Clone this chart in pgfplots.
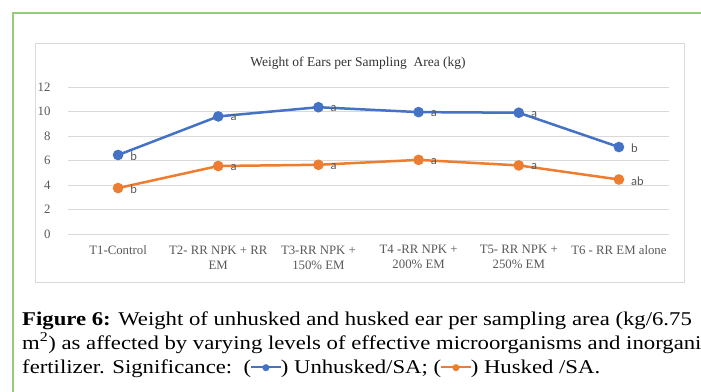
\documentclass[border=0pt]{standalone}
\usepackage{fontspec}
\setmainfont{Liberation Serif}
\newfontfamily\capfont[FakeStretch=1.165]{Liberation Serif}
\newfontfamily\lblfont{Carlito}
\newfontfamily\dejavu{DejaVu Sans}
\usepackage{pgfplots}
\pgfplotsset{compat=1.18}
\definecolor{ublue}{RGB}{68,114,196}
\definecolor{uorange}{RGB}{237,125,49}
\definecolor{txtgray}{RGB}{89,89,89}
\definecolor{gridgray}{RGB}{217,217,217}
\definecolor{bordergreen}{RGB}{150,205,120}
\newcommand{\legsym}[1]{{\color{#1}\rule[0.27em]{0.68em}{1.8pt}\kern-0.12em\raisebox{0.12em}{\dejavu\fontsize{9}{9}\selectfont ●}\kern-0.12em\rule[0.27em]{0.68em}{1.8pt}}}
\begin{document}
\begin{tikzpicture}[x=1pt,y=1pt]
\useasboundingbox (0,0) rectangle (701,391);
\fill[white] (0,0) rectangle (701,391);
\clip (0,0) rectangle (701,391);
\draw[bordergreen, line width=1.5pt] (13,-5) -- (13,378) -- (710,378);
\draw[gridgray, line width=0.75pt] (35,109) rectangle (684,348);
\node[font=\fontsize{13.5}{15}\selectfont, text=black!80] at (358,327.5) {Weight of Ears per Sampling\ \ Area (kg)};
\begin{axis}[
  at={(68pt,157pt)}, anchor=south west,
  scale only axis, width=601pt, height=147pt,
  xmin=-0.5, xmax=5.5, ymin=0, ymax=12,
  axis line style={draw=none},
  ymajorgrids, grid style={gridgray, line width=0.75pt},
  major tick length=0pt, tick style={draw=none},
  ytick={0,2,...,12},
  xtick={0,...,5},
  xticklabels={T1-Control, {T2- RR NPK + RR\\EM}, {T3-RR NPK +\\150\% EM}, {T4 -RR NPK +\\200\% EM}, {T5- RR NPK +\\250\% EM}, T6 - RR EM alone},
  /pgf/number format/assume math mode=true,
  ticklabel style={font=\fontsize{12.8}{15}\selectfont, text=txtgray},
  xticklabel style={align=center, yshift=-8pt},
  yticklabel style={xshift=-14pt},
  clip=false,
  nodes near coords={\pgfplotspointmeta},
  point meta=explicit symbolic,
  nodes near coords style={anchor=west, xshift=10pt, yshift=-1.5pt, inner sep=1pt, font=\lblfont\fontsize{12.5}{12.5}\selectfont, text=txtgray},
]
\addplot[ublue, line width=2.5pt, mark=*, mark size=4pt, mark options={solid}] coordinates {
 (0,6.45) [b] (1,9.6) [a] (2,10.35) [a] (3,9.95) [a] (4,9.9) [a] (5,7.1) [b]
};
\addplot[uorange, line width=2.5pt, mark=*, mark size=4pt, mark options={solid}] coordinates {
 (0,3.75) [b] (1,5.55) [a] (2,5.65) [a] (3,6.05) [a] (4,5.6) [a] (5,4.45) [ab]
};
\end{axis}
\node[anchor=base west, inner sep=0pt, font=\capfont\fontsize{19.5}{24}\selectfont] at (22,66) {\textbf{Figure 6:} Weight of unhusked and husked ear per sampling area (kg/6.75};
\node[anchor=base west, inner sep=0pt, font=\capfont\fontsize{19.5}{24}\selectfont] at (22,42) {m\textsuperscript{2}) as affected by varying levels of effective microorganisms and inorganic};
\node[anchor=base west, inner sep=0pt, font=\capfont\fontsize{19.5}{24}\selectfont] at (22,18) {fertilizer. Significance:\ \ (\legsym{ublue}) Unhusked/SA; (\legsym{uorange}) Husked /SA.};
\end{tikzpicture}
\end{document}
